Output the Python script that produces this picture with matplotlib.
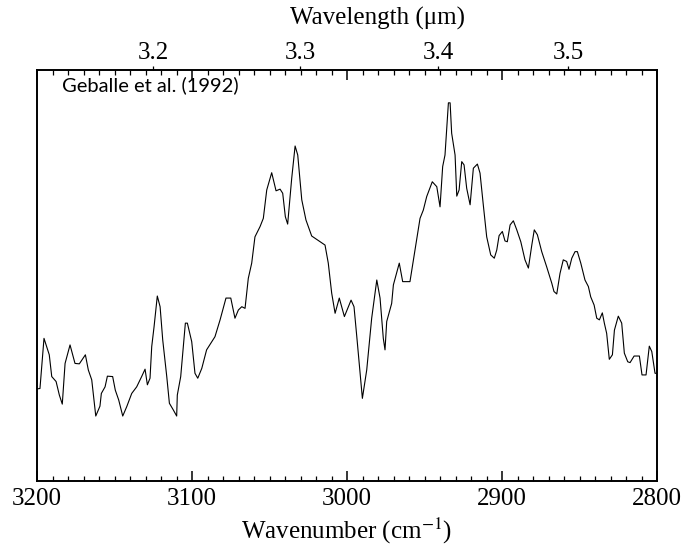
import matplotlib
matplotlib.use("Agg")
import matplotlib.pyplot as plt
from matplotlib.ticker import MultipleLocator, FixedLocator
import numpy as np

# wavenumber (cm^-1) and relative flux of the 3.3-3.4 um emission spectrum
wavenumber = [
    3200.0, 3198.1, 3195.5, 3192.1, 3190.5, 3187.7, 3185.6, 3183.7, 3181.9, 3178.7,
    3175.5, 3172.7, 3168.8, 3166.9, 3164.7, 3162.1, 3159.4, 3158.5, 3156.1, 3154.6,
    3151.2, 3149.5, 3147.3, 3144.7, 3142.1, 3138.9, 3135.7, 3132.5, 3130.3, 3128.8,
    3127.1, 3126.0, 3124.5, 3122.4, 3120.6, 3118.9, 3116.3, 3114.6, 3112.1, 3109.9,
    3109.5, 3107.3, 3104.3, 3103.0, 3100.2, 3098.1, 3096.3, 3093.7, 3090.6, 3085.2,
    3081.9, 3078.1, 3075.0, 3072.3, 3070.1, 3067.9, 3065.8, 3063.7, 3061.5, 3059.4,
    3056.1, 3054.0, 3051.8, 3048.6, 3045.8, 3043.2, 3041.5, 3039.8, 3038.3, 3035.7,
    3033.5, 3031.8, 3029.2, 3026.5, 3022.8, 3014.2, 3012.1, 3009.9, 3007.7, 3005.0,
    3001.7, 2997.4, 2995.5, 2993.7, 2990.1, 2987.3, 2984.1, 2980.8, 2978.7, 2976.6,
    2975.5, 2974.4, 2971.2, 2970.1, 2966.3, 2964.1, 2959.4, 2956.8, 2952.9, 2950.8,
    2948.6, 2945.0, 2942.1, 2940.0, 2938.3, 2936.8, 2934.6, 2933.5, 2932.5, 2930.3,
    2929.2, 2927.7, 2926.0, 2924.5, 2922.8, 2920.6, 2918.5, 2915.9, 2914.2, 2912.1,
    2909.9, 2907.3, 2905.0, 2903.4, 2901.9, 2899.8, 2898.1, 2896.6, 2894.8, 2892.7,
    2890.5, 2887.9, 2885.2, 2883.0, 2880.8, 2879.2, 2877.2, 2874.4, 2871.2, 2867.9,
    2866.5, 2864.7, 2862.6, 2860.5, 2858.3, 2856.8, 2855.0, 2852.9, 2851.4, 2849.2,
    2846.5, 2844.3, 2842.8, 2840.6, 2838.9, 2837.2, 2835.3, 2834.0, 2832.5, 2830.8,
    2828.8, 2827.5, 2825.0, 2822.8, 2821.1, 2818.9, 2817.4, 2814.8, 2811.4, 2809.7,
    2807.1, 2805.0, 2803.4, 2801.3, 2800.0,
]
flux = [
    0.224, 0.225, 0.347, 0.307, 0.254, 0.242, 0.209, 0.187, 0.286, 0.331,
    0.286, 0.285, 0.307, 0.270, 0.246, 0.158, 0.182, 0.213, 0.229, 0.255,
    0.254, 0.221, 0.197, 0.158, 0.181, 0.213, 0.229, 0.254, 0.272, 0.234,
    0.250, 0.327, 0.375, 0.450, 0.424, 0.343, 0.254, 0.189, 0.173, 0.158,
    0.209, 0.254, 0.384, 0.384, 0.339, 0.262, 0.250, 0.274, 0.319, 0.351,
    0.392, 0.445, 0.445, 0.396, 0.416, 0.424, 0.420, 0.493, 0.530, 0.594,
    0.619, 0.639, 0.708, 0.750, 0.706, 0.710, 0.700, 0.643, 0.625, 0.736,
    0.815, 0.793, 0.684, 0.635, 0.596, 0.574, 0.530, 0.457, 0.408, 0.445,
    0.400, 0.440, 0.424, 0.351, 0.201, 0.270, 0.396, 0.489, 0.445, 0.347,
    0.319, 0.388, 0.432, 0.477, 0.530, 0.485, 0.485, 0.546, 0.639, 0.659,
    0.692, 0.728, 0.716, 0.667, 0.765, 0.793, 0.920, 0.920, 0.846, 0.793,
    0.693, 0.708, 0.777, 0.769, 0.712, 0.672, 0.761, 0.771, 0.749, 0.672,
    0.594, 0.550, 0.542, 0.562, 0.597, 0.607, 0.584, 0.582, 0.623, 0.633,
    0.611, 0.582, 0.538, 0.518, 0.574, 0.611, 0.599, 0.558, 0.521, 0.481,
    0.461, 0.455, 0.505, 0.538, 0.534, 0.515, 0.542, 0.558, 0.558, 0.530,
    0.489, 0.473, 0.448, 0.428, 0.396, 0.392, 0.409, 0.384, 0.359, 0.296,
    0.307, 0.367, 0.401, 0.384, 0.311, 0.290, 0.288, 0.304, 0.304, 0.258,
    0.258, 0.328, 0.315, 0.262, 0.262,
]
wavelength_ticks = [3.2, 3.3, 3.4, 3.5]

plt.rcParams["font.family"] = ["Liberation Serif", "DejaVu Serif"]
plt.rcParams["mathtext.fontset"] = "stix"

fig = plt.figure(figsize=(6.83, 5.5), dpi=100)
ax = fig.add_axes([0.0542, 0.1255, 0.9078, 0.7473])

ax.plot(wavenumber, flux, color="black", lw=0.8)

ax.set_xlim(3200, 2800)
ax.set_ylim(0, 1)
ax.set_yticks([])

for s in ax.spines.values():
    s.set_linewidth(1.4)

ax.xaxis.set_major_locator(MultipleLocator(100))
ax.xaxis.set_minor_locator(MultipleLocator(10))
ax.tick_params(axis="x", which="major", direction="in", length=7, width=1.1,
               top=True, labelsize=18, pad=5)
ax.tick_params(axis="x", which="minor", direction="in", length=3.5, width=0.9,
               top=True)
ax.set_xlabel("Wavenumber (cm$^{-1}$)", fontsize=18, labelpad=4)

# wavelength scale along the top
sec = ax.secondary_xaxis("top", functions=(lambda k: 1e4 / k, lambda l: 1e4 / l))
sec.xaxis.set_major_locator(FixedLocator(wavelength_ticks))
sec.xaxis.set_minor_locator(FixedLocator([]))
sec.tick_params(axis="x", direction="out", length=3, width=0.9, labelsize=18, pad=1)
sec.spines["top"].set_visible(False)
sec.set_xticklabels([f"{v:.1f}" for v in wavelength_ticks])
fig.text(0.552, 0.967, "Wavelength (μm)", fontsize=18, ha="center", va="center")

ax.text(0.04, 0.964, "Geballe et al. (1992)", transform=ax.transAxes,
        fontsize=14.5, family=["Lato", "DejaVu Sans"], ha="left", va="center")

fig.savefig("out.png", dpi=100)
